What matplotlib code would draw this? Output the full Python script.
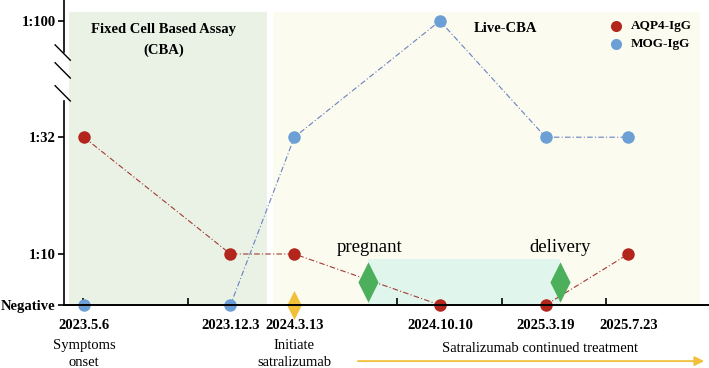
import matplotlib.pyplot as plt
from matplotlib.patches import Rectangle
from matplotlib.path import Path

plt.rcParams["font.family"] = ["Liberation Serif", "DejaVu Serif"]

# Time points (labels and their positions along the axis)
dates = ["2023.5.6", "2023.12.3", "2024.3.13", "2024.10.10", "2025.3.19", "2025.7.23"]
date_pos = [0.01, 1.41, 2.02, 3.41, 4.42, 5.21]

# Titer levels (index into titer_labels)
titer_labels = ["Negative", "1:10", "1:32", "1:100"]
titer_pos = [0, 1, 3.29, 5.57]
aqp4_level = [2, 1, 1, 0, 0, 1]
mog_level = [0, 0, 2, 3, 2, 2]

AQP4_COLOR = "#b3261e"
MOG_COLOR = "#6b9fd6"

# slim diamond marker
slim_diamond = Path([(0, 1), (0.5, 0), (0, -1), (-0.5, 0), (0, 1)],
                    [Path.MOVETO, Path.LINETO, Path.LINETO, Path.LINETO, Path.CLOSEPOLY])

fig = plt.figure(figsize=(7.09, 3.68), dpi=100)
ax = fig.add_axes([64 / 709, 63 / 368, 645 / 709, 305 / 368])
ax.set_xlim(-0.18, 5.98)
ax.set_ylim(0, 5.98)

# shaded phases
ax.add_patch(Rectangle((-0.134, 0), 1.891, 5.75, color="#e9f2e5", zorder=0, lw=0))
ax.add_patch(Rectangle((1.815, 0), 4.075, 5.75, color="#fbfbef", zorder=0, lw=0))
ax.add_patch(Rectangle((2.72, 0), 1.84, 0.9, color="#e0f6ec", zorder=0.5, lw=0))

aqp4_y = [titer_pos[i] for i in aqp4_level]
mog_y = [titer_pos[i] for i in mog_level]

ax.plot(date_pos, mog_y, linestyle=(0, (5, 2, 1, 2)), color="#6a80c0", lw=0.8, zorder=2)
ax.plot(date_pos, aqp4_y, linestyle=(0, (5, 2, 1, 2)), color="#a33a35", lw=0.8, zorder=2)
ax.plot(date_pos, mog_y, "o", color=MOG_COLOR, ms=9, mec="none", zorder=4, clip_on=False)
ax.plot(date_pos, aqp4_y, "o", color=AQP4_COLOR, ms=9, mec="none", zorder=4, clip_on=False)

# event markers
ax.plot([2.02], [0], marker=slim_diamond, color="#f2bf3a", ms=21, mec="none", zorder=3,
        clip_on=False)
ax.plot([2.72, 4.56], [0.45, 0.45], marker=slim_diamond, ls="none", color="#4caf5b", ms=29,
        mec="none", zorder=3)

# axes
for side in ["top", "right", "left", "bottom"]:
    ax.spines[side].set_visible(False)
ax.plot([-0.18, 5.98], [0, 0], color="black", lw=1.4, zorder=5, clip_on=False)
ax.plot([-0.18, -0.18], [0, 4.0], color="black", lw=1.2, zorder=5, clip_on=False)
ax.plot([-0.18, -0.18], [4.97, 5.98], color="black", lw=1.2, zorder=5, clip_on=False)
for yc in [4.95, 4.6, 4.15]:
    ax.plot([-0.265, -0.12], [yc + 0.15, yc - 0.15], color="black", lw=1.0, clip_on=False)

ax.set_yticks(titer_pos)
ax.set_yticklabels(titer_labels, fontweight="bold", fontsize=10.5)
ax.tick_params(axis="y", length=4, width=1.2, pad=2)
ax.set_xticks([0, 1, 2, 3, 4, 5])
ax.set_xticklabels([])
ax.tick_params(axis="x", direction="in", length=5, width=1.2)

for x, d in zip(date_pos, dates):
    ax.text(x, -0.28, d, ha="center", va="top", fontweight="bold", fontsize=10.5)
ax.text(date_pos[0], -0.66, "Symptoms\nonset", ha="center", va="top", fontsize=10.5,
        linespacing=1.4)
ax.text(date_pos[2], -0.66, "Initiate\nsatralizumab", ha="center", va="top", fontsize=10.5,
        linespacing=1.4)
ax.text(4.37, -0.86, "Satralizumab continued treatment", ha="center", va="center", fontsize=10.5)
ax.annotate("", xy=(5.96, -1.1), xytext=(2.6, -1.1), annotation_clip=False,
            arrowprops=dict(arrowstyle="-|>", color="#f2bf3a", lw=1.3, mutation_scale=14))

ax.text(0.77, 5.2, "Fixed Cell Based Assay\n(CBA)", ha="center", va="center",
        fontweight="bold", fontsize=10.5, linespacing=1.7)
ax.text(4.04, 5.43, "Live-CBA", ha="center", va="center", fontweight="bold", fontsize=10.5)
ax.text(2.74, 1.12, "pregnant", ha="center", va="center", fontsize=13.5)
ax.text(4.56, 1.12, "delivery", ha="center", va="center", fontsize=13.5)

# legend
ax.plot([5.09], [5.47], "o", color=AQP4_COLOR, ms=8, mec="none")
ax.plot([5.09], [5.12], "o", color=MOG_COLOR, ms=8, mec="none")
ax.text(5.23, 5.47, "AQP4-IgG", va="center", fontweight="bold", fontsize=9.5)
ax.text(5.23, 5.12, "MOG-IgG", va="center", fontweight="bold", fontsize=9.5)

fig.savefig("out.png", dpi=100)
